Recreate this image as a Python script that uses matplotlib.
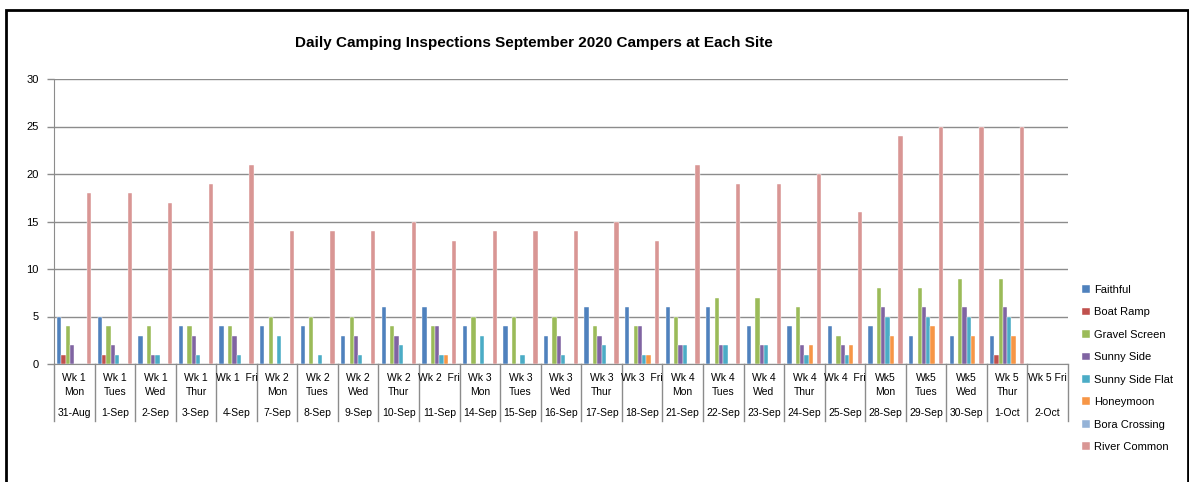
import matplotlib
matplotlib.use('Agg')
import matplotlib.pyplot as plt
import matplotlib.transforms as mtransforms
from matplotlib.patches import Rectangle
import numpy as np

plt.rcParams['font.family'] = ['Liberation Sans', 'DejaVu Sans']

# категории (дни)
day_labels = ['Wk 1\nMon', 'Wk 1\nTues', 'Wk 1\nWed', 'Wk 1\nThur', 'Wk 1  Fri',
              'Wk 2\nMon', 'Wk 2\nTues', 'Wk 2\nWed', 'Wk 2\nThur', 'Wk 2  Fri',
              'Wk 3\nMon', 'Wk 3\nTues', 'Wk 3\nWed', 'Wk 3\nThur', 'Wk 3  Fri',
              'Wk 4\nMon', 'Wk 4\nTues', 'Wk 4\nWed', 'Wk 4\nThur', 'Wk 4  Fri',
              'Wk5\nMon', 'Wk5\nTues', 'Wk5\nWed', 'Wk 5\nThur', 'Wk 5 Fri']
dates = ['31-Aug', '1-Sep', '2-Sep', '3-Sep', '4-Sep',
         '7-Sep', '8-Sep', '9-Sep', '10-Sep', '11-Sep',
         '14-Sep', '15-Sep', '16-Sep', '17-Sep', '18-Sep',
         '21-Sep', '22-Sep', '23-Sep', '24-Sep', '25-Sep',
         '28-Sep', '29-Sep', '30-Sep', '1-Oct', '2-Oct']

# значения по площадкам
faithful = [5, 5, 3, 4, 4, 4, 4, 3, 6, 6, 4, 4, 3, 6, 6, 6, 6, 4, 4, 4, 4, 3, 3, 3, 0]
boat_ramp = [1, 1, 0, 0, 0, 0, 0, 0, 0, 0, 0, 0, 0, 0, 0, 0, 0, 0, 0, 0, 0, 0, 0, 1, 0]
gravel_screen = [4, 4, 4, 4, 4, 5, 5, 5, 4, 4, 5, 5, 5, 4, 4, 5, 7, 7, 6, 3, 8, 8, 9, 9, 0]
sunny_side = [2, 2, 1, 3, 3, 0, 0, 3, 3, 4, 0, 0, 3, 3, 4, 2, 2, 2, 2, 2, 6, 6, 6, 6, 0]
sunny_side_flat = [0, 1, 1, 1, 1, 3, 1, 1, 2, 1, 3, 1, 1, 2, 1, 2, 2, 2, 1, 1, 5, 5, 5, 5, 0]
honeymoon = [0, 0, 0, 0, 0, 0, 0, 0, 0, 1, 0, 0, 0, 0, 1, 0, 0, 0, 2, 2, 3, 4, 3, 3, 0]
bora_crossing = [0] * 25
river_common = [18, 18, 17, 19, 21, 14, 14, 14, 15, 13, 14, 14, 14, 15, 13,
                21, 19, 19, 20, 16, 24, 25, 25, 25, 0]

series = [('Faithful', faithful, '#4F81BD'),
          ('Boat Ramp', boat_ramp, '#C0504D'),
          ('Gravel Screen', gravel_screen, '#9BBB59'),
          ('Sunny Side', sunny_side, '#8064A2'),
          ('Sunny Side Flat', sunny_side_flat, '#4BACC6'),
          ('Honeymoon', honeymoon, '#F79646'),
          ('Bora Crossing', bora_crossing, '#95B3D7'),
          ('River Common', river_common, '#D99694')]

W, H = 1189, 482
fig = plt.figure(figsize=(W / 100, H / 100), dpi=100)
ax = fig.add_axes([54 / W, 1 - 364 / H, (1068 - 54) / W, (364 - 79) / H])

x = np.arange(len(dates))
bw = 1 / 9.5
for i, (name, vals, col) in enumerate(series):
    ax.bar(x + (i - 3.5) * bw, vals, width=bw, color=col, label=name,
           edgecolor='white', linewidth=0.3)

ax.set_xlim(-0.5, len(dates) - 0.5)
ax.set_ylim(0, 30)
ax.set_yticks(range(0, 31, 5))
ax.yaxis.grid(True, color='#8c8c8c', linewidth=1)
ax.set_axisbelow(True)
ax.set_xticks([])
for s in ['top', 'right']:
    ax.spines[s].set_visible(False)
for s in ['left', 'bottom']:
    ax.spines[s].set_color('#8c8c8c')
ax.tick_params(axis='y', colors='#8c8c8c', length=5, width=1, labelsize=8,
               labelcolor='black', pad=6)

# подписи категорий в виде таблицы
tr = mtransforms.blended_transform_factory(ax.transData, ax.transAxes)
ph = 364 - 79
for b in np.arange(-0.5, len(dates), 1):
    ax.plot([b, b], [0, -57 / ph], transform=tr, color='#8c8c8c', lw=1, clip_on=False)
for i, (lab, d) in enumerate(zip(day_labels, dates)):
    parts = lab.split('\n')
    ax.text(i, -14 / ph, parts[0], transform=tr, ha='center', va='center', fontsize=7.5)
    if len(parts) > 1:
        ax.text(i, -28 / ph, parts[1], transform=tr, ha='center', va='center', fontsize=7.5)
    ax.text(i, -49 / ph, d, transform=tr, ha='center', va='center', fontsize=7.5)

fig.suptitle('Daily Camping Inspections September 2020 Campers at Each Site',
             x=534 / W, y=1 - 43 / H, va='center', fontsize=11, fontweight='bold')

fig.legend(loc='upper left', bbox_to_anchor=(1082 / W, 1 - 285 / H), frameon=False,
           fontsize=8, handlelength=0.7, handleheight=0.7, handletextpad=0.4,
           labelspacing=1.12, borderpad=0, borderaxespad=0)

# рамка диаграммы
fig.patches.append(Rectangle((6 / W, -0.1), 1181.5 / W, 1.1 - 9.5 / H,
                             transform=fig.transFigure, fill=False,
                             edgecolor='black', linewidth=2))

fig.savefig('out.png', dpi=100)
